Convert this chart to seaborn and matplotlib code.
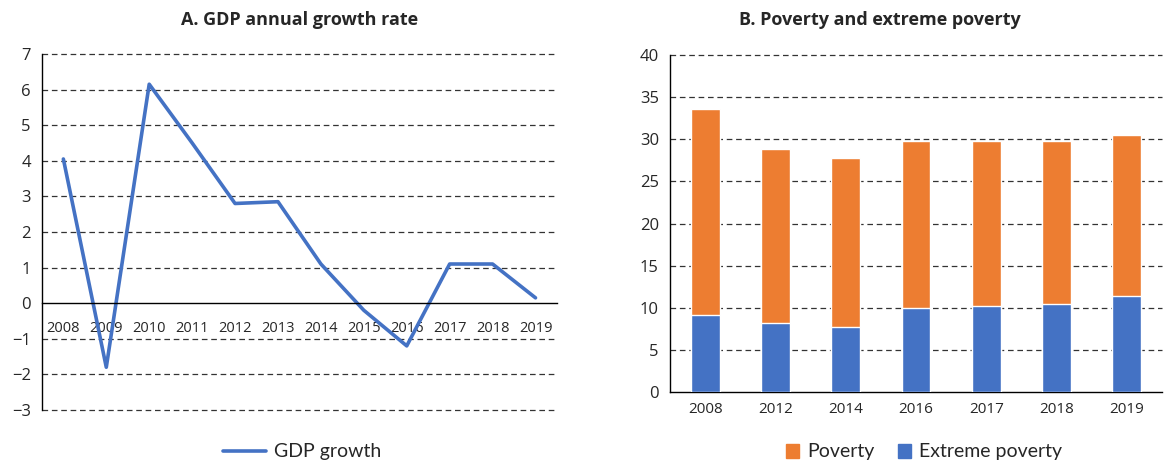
import matplotlib
matplotlib.use("Agg")
import matplotlib.pyplot as plt
from matplotlib.lines import Line2D
from matplotlib.patches import Patch
import seaborn as sns

# Panel A: GDP annual growth rate (%)
years_a = [2008, 2009, 2010, 2011, 2012, 2013, 2014, 2015, 2016, 2017, 2018, 2019]
gdp_growth = [4.05, -1.8, 6.15, 4.5, 2.8, 2.85, 1.1, -0.2, -1.2, 1.1, 1.1, 0.15]

# Panel B: poverty and extreme poverty (% of population)
years_b = ["2008", "2012", "2014", "2016", "2017", "2018", "2019"]
poverty = [33.6, 28.8, 27.8, 29.8, 29.8, 29.8, 30.5]
extreme_poverty = [9.1, 8.2, 7.7, 10.0, 10.2, 10.5, 11.4]

blue = "#4472C4"
orange = "#ED7D31"
grid_kw = dict(color="#333333", linestyle=(0, (4.5, 3)), linewidth=0.9, clip_on=False)

sns.set_style("white")
plt.rcParams["font.family"] = ["Open Sans", "DejaVu Sans"]

fig = plt.figure(figsize=(11.64, 4.62), dpi=100)
ax1 = fig.add_axes([0.036, 0.1126, 0.4425, 0.7706])
ax2 = fig.add_axes([0.5756, 0.1515, 0.4227, 0.7294])

# ---- A. line chart
sns.lineplot(x=years_a, y=gdp_growth, color=blue, linewidth=2.6, ax=ax1)
ax1.set_xlim(years_a[0] - 0.5, years_a[-1] + 0.5)
ax1.set_ylim(-3, 7)
ax1.set_yticks(range(-3, 8))
for v in range(-3, 8):
    if v != 0:
        ax1.axhline(v, zorder=0, **grid_kw)
ax1.spines["bottom"].set_position(("data", 0))
ax1.spines["right"].set_visible(False)
ax1.spines["top"].set_visible(False)
for s in ["left", "bottom"]:
    ax1.spines[s].set_color("black")
    ax1.spines[s].set_linewidth(1.0)
ax1.set_xticks([y - 0.5 for y in years_a] + [years_a[-1] + 0.5])
ax1.set_xticklabels([])
ax1.set_xticks(years_a, minor=True)
ax1.set_xticklabels([str(y) for y in years_a], minor=True)
ax1.tick_params(axis="x", which="major", length=5, width=1, color="black", direction="out")
ax1.tick_params(axis="x", which="minor", length=0, pad=13, labelsize=10.5)
ax1.tick_params(axis="y", length=5, width=1, color="black", direction="out", labelsize=12, pad=3)
ax1.set_xlabel("")
ax1.set_ylabel("")
fig.text(300 / 1164, 1 - 20 / 462, "A. GDP annual growth rate", fontsize=13,
         fontweight="bold", ha="center", va="center")

# ---- B. stacked bars
sns.barplot(x=years_b, y=poverty, color=orange, saturation=1, width=0.41, ax=ax2, zorder=2)
sns.barplot(x=years_b, y=extreme_poverty, color=blue, saturation=1, width=0.41, ax=ax2, zorder=3)
ax2.set_xlim(-0.5, len(years_b) - 0.5)
ax2.set_ylim(0, 40)
ax2.set_yticks(range(0, 41, 5))
for v in range(5, 41, 5):
    ax2.axhline(v, zorder=1, **grid_kw)
ax2.spines["right"].set_visible(False)
ax2.spines["top"].set_visible(False)
for s in ["left", "bottom"]:
    ax2.spines[s].set_color("black")
    ax2.spines[s].set_linewidth(1.0)
ax2.set_xticks([i - 0.5 for i in range(len(years_b) + 1)])
ax2.set_xticklabels([])
ax2.set_xticks(range(len(years_b)), minor=True)
ax2.set_xticklabels(years_b, minor=True)
ax2.tick_params(axis="x", which="major", length=5, width=1, color="black", direction="out")
ax2.tick_params(axis="x", which="minor", length=0, pad=7, labelsize=11)
ax2.tick_params(axis="y", length=5, width=1, color="black", direction="out", labelsize=12, pad=3)
ax2.set_xlabel("")
ax2.set_ylabel("")
fig.text(880 / 1164, 1 - 20 / 462, "B. Poverty and extreme poverty", fontsize=13,
         fontweight="bold", ha="center", va="center")

# ---- legends
leg_font = ["Lato", "DejaVu Sans"]
fig.legend(handles=[Line2D([0], [0], color=blue, linewidth=2.6)], labels=["GDP growth"],
           loc="center", bbox_to_anchor=(302 / 1164, 10 / 462), frameon=False,
           handlelength=2.2, handletextpad=0.4, prop={"family": leg_font, "size": 14})
fig.legend(handles=[Patch(color=orange), Patch(color=blue)], labels=["Poverty", "Extreme poverty"],
           loc="center", bbox_to_anchor=(924 / 1164, 10 / 462), frameon=False, ncol=2,
           handlelength=0.7, handleheight=0.7, columnspacing=1.2, handletextpad=0.4,
           prop={"family": leg_font, "size": 14})

fig.savefig("out.png", dpi=100)
